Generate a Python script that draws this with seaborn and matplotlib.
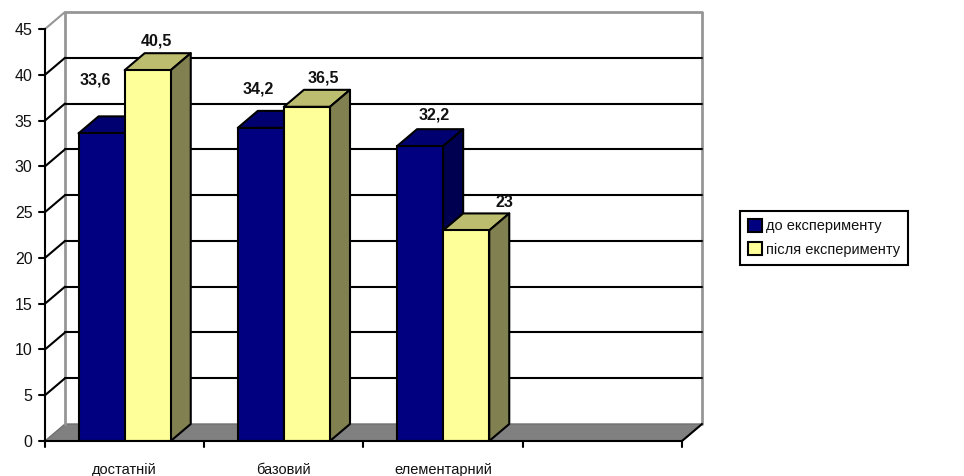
import matplotlib
matplotlib.use("Agg")
import matplotlib.pyplot as plt
from matplotlib.patches import Polygon
import seaborn as sns
import pandas as pd
import numpy as np

# chart values
categories = ["достатній", "базовий", "елементарний", " "]
before_values = [33.6, 34.2, 32.2, np.nan]
after_values = [40.5, 36.5, 23, np.nan]
series_names = ["до експерименту", "після експерименту"]
before_labels = ["33,6", "34,2", "32,2"]
after_labels = ["40,5", "36,5", "23"]
y_ticks = list(range(0, 50, 5))

sns.set_style("white")
plt.rcParams["font.family"] = ["Liberation Sans", "DejaVu Sans"]

W, H = 964, 476
fig = plt.figure(figsize=(W / 100, H / 100), dpi=100)
# axes is the front plane of the fake 3d box
ax = fig.add_axes([45 / W, 1 - 441 / H, 637 / W, 412 / H])

df = pd.DataFrame({
    "category": categories * 2,
    "series": [series_names[0]] * 4 + [series_names[1]] * 4,
    "value": before_values + after_values,
})
sns.barplot(data=df, x="category", y="value", hue="series", order=categories,
            palette=["#000080", "#FFFF99"], saturation=1, width=0.579, ax=ax,
            edgecolor="black", linewidth=1.5, zorder=5)

ax.set_xlim(-0.5, 3.5)
ax.set_ylim(0, 45)
ax.set_xlabel("")
ax.set_ylabel("")
ax.set_yticks(y_ticks)
ax.set_xticks(range(4))
ax.set_xticklabels(categories, fontsize=10.5, color="#111111")
ax.tick_params(axis="y", length=0, labelsize=11.5, pad=9, labelcolor="#111111")
ax.tick_params(axis="x", length=0, pad=16)
ax.patch.set_alpha(0)
for side in ["top", "right"]:
    ax.spines[side].set_visible(False)
for side in ["left", "bottom"]:
    ax.spines[side].set_linewidth(1.5)
    ax.spines[side].set_color("black")
    ax.spines[side].set_zorder(8)

# depth of the box, in data units
dx = 20 / 159
dy = 17 / 9.156
x0, x1 = -0.5, 3.5
px_x = 1 / 159
px_y = 1 / 9.156

# tick marks by hand so they sit on the category boundaries
for t in y_ticks:
    ax.plot([x0 - 6 * px_x, x0], [t, t], color="black", lw=1.5, clip_on=False, zorder=8)
for b in np.arange(x0, x1 + 0.5):
    ax.plot([b, b], [0, -6 * px_y], color="black", lw=1.5, clip_on=False, zorder=8)

# floor and back wall
ax.add_patch(Polygon([(x0, 0), (x0 + dx, dy), (x1 + dx, dy), (x1, 0)], closed=True,
                     facecolor="#808080", edgecolor="#707070", lw=1, clip_on=False, zorder=1))
ax.plot([x0 + dx, x0 + dx, x1 + dx, x1 + dx], [dy, 45 + dy, 45 + dy, dy],
        color="#969696", lw=2, clip_on=False, zorder=2)
ax.plot([x0, x0 + dx], [45, 45 + dy], color="#969696", lw=1.5, clip_on=False, zorder=2)
for t in y_ticks[1:-1]:
    ax.plot([x0 + dx, x1 + dx], [t + dy, t + dy], color="black", lw=1.5, clip_on=False, zorder=2)
    ax.plot([x0, x0 + dx], [t, t + dy], color="black", lw=1.5, clip_on=False, zorder=2)
ax.plot([x1, x1 + dx], [0, dy], color="black", lw=1.5, clip_on=False, zorder=3)

# top and side faces, built from the bars seaborn drew
face_colors = [("#000070", "#000050"), ("#BDBD70", "#808050")]
for i, container in enumerate(ax.containers):
    top_color, side_color = face_colors[i]
    for bar in container:
        h = bar.get_height()
        if np.isnan(h):
            continue
        bar.set_zorder(5 + i * 2)
        left = bar.get_x()
        right = left + bar.get_width()
        z = 4 + i * 2
        ax.add_patch(Polygon([(left, h), (left + dx, h + dy), (right + dx, h + dy), (right, h)],
                             closed=True, facecolor=top_color, edgecolor="black",
                             lw=1.5, clip_on=False, zorder=z, joinstyle="round"))
        ax.add_patch(Polygon([(right, 0), (right + dx, dy), (right + dx, h + dy), (right, h)],
                             closed=True, facecolor=side_color, edgecolor="black",
                             lw=1.5, clip_on=False, zorder=z, joinstyle="round"))

# value labels, excel left them at odd offsets so these are per label (in px)
label_offsets = [[(-6, 53), (-3, 39), (14, 31)], [(9, 29), (16, 29), (38, 28)]]
for i, labels in enumerate([before_labels, after_labels]):
    bars = ax.containers[i]
    for j, text in enumerate(labels):
        bar = bars[j]
        ox, oy = label_offsets[i][j]
        ax.annotate(text, (bar.get_x() + bar.get_width() / 2, bar.get_height()),
                    xytext=(ox * 0.72, oy * 0.72), textcoords="offset points",
                    ha="center", va="center", fontsize=11.5, fontweight="bold",
                    color="#111111", zorder=12, annotation_clip=False)

# legend runs up to the right edge of the picture
handles, names = ax.get_legend_handles_labels()
leg = ax.legend(handles, names, loc="upper left", bbox_to_anchor=(740 / W, 1 - 211 / H),
                bbox_transform=fig.transFigure, fontsize=10.5, frameon=True, fancybox=False,
                framealpha=1, edgecolor="black", borderaxespad=0, borderpad=0.55,
                handlelength=0.95, handleheight=0.95, handletextpad=0.25, labelspacing=0.62)
leg.get_frame().set_linewidth(1.5)
leg.set_zorder(20)
for t in leg.get_texts():
    t.set_color("#111111")

fig.savefig("out.png", dpi=100)
